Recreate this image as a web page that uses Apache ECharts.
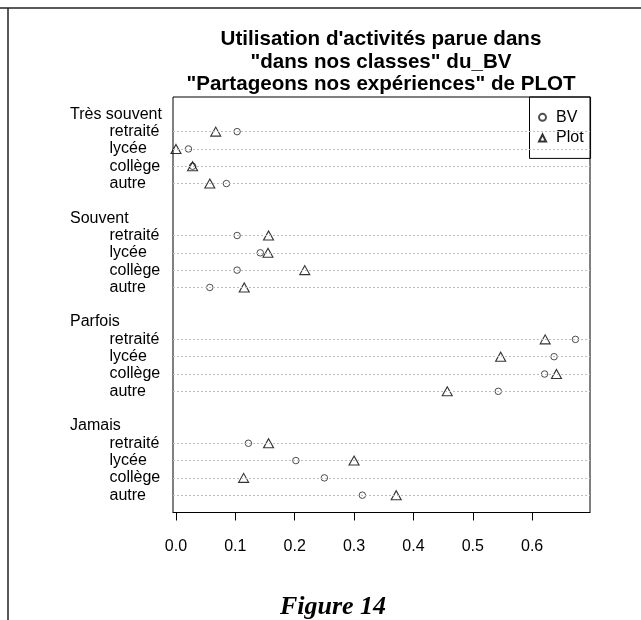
<!DOCTYPE html>
<html><head><meta charset="utf-8">
<script src="https://cdn.jsdelivr.net/npm/echarts@6/dist/echarts.min.js"></script>
<style>html,body{margin:0;padding:0;background:#fff}#c{width:641px;height:620px}</style>
</head><body><div id="c"></div>
<script>
const groups = ['Très souvent', 'Souvent', 'Parfois', 'Jamais'];
const rows = ['retraité', 'lycée', 'collège', 'autre'];
const bvValues = [
  [0.103, 0.021, 0.028, 0.085],
  [0.103, 0.142, 0.103, 0.057],
  [0.673, 0.637, 0.621, 0.543],
  [0.122, 0.202, 0.250, 0.314]
];
const plotValues = [
  [0.067, 0.000, 0.028, 0.057],
  [0.156, 0.155, 0.217, 0.115],
  [0.622, 0.547, 0.641, 0.457],
  [0.156, 0.300, 0.114, 0.371]
];
const xTicks = [0, 0.1, 0.2, 0.3, 0.4, 0.5, 0.6];
const titleLines = ["Utilisation d'activités parue dans", "\"dans nos classes\" du_BV", "\"Partageons nos expériences\" de PLOT"];
const seriesNames = ['BV', 'Plot'];
const caption = 'Figure 14';

// dotchart layout positions (R style: rows counted from bottom, group label above)
const groupPos = gi => 23 - 6 * gi;
const rowPos = (gi, ri) => 22 - 6 * gi - ri;

const rowYs = [], groupYs = [], rowLabelAt = {}, groupLabelAt = {};
groups.forEach((g, gi) => {
  groupYs.push(groupPos(gi)); groupLabelAt[groupPos(gi)] = g;
  rows.forEach((r, ri) => { const y = rowPos(gi, ri); rowYs.push(y); rowLabelAt[y] = r; });
});
const bvData = [], plotData = [];
groups.forEach((g, gi) => rows.forEach((r, ri) => {
  bvData.push([bvValues[gi][ri], rowPos(gi, ri)]);
  plotData.push([plotValues[gi][ri], rowPos(gi, ri)]);
}));

const FONT = 'Liberation Sans, Arial, sans-serif';
const chart = echarts.init(document.getElementById('c'), null, {renderer: 'canvas'});
chart.setOption({
  animation: false,
  backgroundColor: '#fff',
  title: {
    text: titleLines.join('\n'),
    left: 381, top: 28.5, padding: 0, textAlign: 'center',
    textStyle: {fontFamily: FONT, fontWeight: 'bold', fontSize: 20.6, lineHeight: 22.4, color: '#000'}
  },
  legend: {
    data: seriesNames, orient: 'vertical', left: 529.5, top: 97,
    itemWidth: 7, itemHeight: 7, itemGap: 0,
    padding: [10, 7, 10, 8.5], borderColor: '#000', borderWidth: 1,
    textStyle: {fontFamily: FONT, fontSize: 16, color: '#000', lineHeight: 20.7, padding: [0, 0, 0, 5]}
  },
  grid: {left: 173, right: 51, top: 97, bottom: 107.5, show: true, borderColor: '#000', borderWidth: 1, backgroundColor: 'transparent'},
  xAxis: {
    type: 'value', min: -0.005, max: 0.6975,
    axisLine: {show: true, lineStyle: {color: '#000'}},
    axisTick: {show: true, customValues: xTicks, length: 8, lineStyle: {color: '#000'}},
    axisLabel: {customValues: xTicks, formatter: v => v.toFixed(1), fontFamily: FONT, fontSize: 16, color: '#000', margin: 26},
    splitLine: {show: false}
  },
  yAxis: [
    {type: 'value', min: 0, max: 24, position: 'left',
     axisLine: {show: false}, axisTick: {show: false}, splitLine: {show: false},
     axisLabel: {customValues: rowYs, formatter: v => rowLabelAt[v] || '', align: 'left', margin: 63.5, fontFamily: FONT, fontSize: 16, color: '#000'}},
    {type: 'value', min: 0, max: 24, position: 'left', offset: 0,
     axisLine: {show: false}, axisTick: {show: false}, splitLine: {show: false},
     axisLabel: {customValues: groupYs, formatter: v => groupLabelAt[v] || '', align: 'left', margin: 103, fontFamily: FONT, fontSize: 16, color: '#000'}}
  ],
  series: [
    {name: 'guides', type: 'scatter', data: [], yAxisIndex: 0, z: 1, silent: true,
     markLine: {silent: true, symbol: ['none', 'none'], label: {show: false}, animation: false,
       lineStyle: {type: [2, 2], color: '#bebebe', width: 1},
       emphasis: {disabled: true},
       data: rowYs.map(y => ({yAxis: y}))}},
    {name: 'BV', type: 'scatter', data: bvData, yAxisIndex: 0, z: 3, symbol: 'circle', symbolSize: 6.5,
     itemStyle: {color: 'rgba(0,0,0,0)', borderColor: '#222', borderWidth: 1}},
    {name: 'Plot', type: 'scatter', data: plotData, yAxisIndex: 0, z: 4, symbol: 'triangle', symbolSize: [10, 9],
     itemStyle: {color: 'rgba(0,0,0,0)', borderColor: '#000', borderWidth: 1.1}}
  ],
  graphic: [
    {type: 'line', shape: {x1: 0, y1: 8, x2: 641, y2: 8}, style: {stroke: '#222', lineWidth: 1.5}},
    {type: 'line', shape: {x1: 8, y1: 8, x2: 8, y2: 620}, style: {stroke: '#222', lineWidth: 1.5}},
    {type: 'text', x: 333, y: 607, style: {text: caption, font: 'italic bold 26px "Liberation Serif", "Times New Roman", serif', fill: '#000', textAlign: 'center', textVerticalAlign: 'middle'}}
  ]
});
</script></body></html>
